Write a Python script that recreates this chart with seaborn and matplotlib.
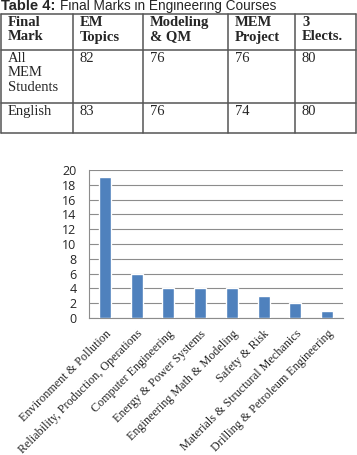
import matplotlib
matplotlib.use("Agg")
import matplotlib.pyplot as plt
import seaborn as sns
import pandas as pd

# table data
table_title_bold = "Table 4:"
table_title_rest = "Final Marks in Engineering Courses"
table_header = ["Final\nMark", "EM\nTopics", "Modeling\n& QM", "MEM\nProject", "3\nElects."]
row_labels = ["All\nMEM\nStudents", "English"]
row_values = [[82, 76, 76, 80], [83, 76, 74, 80]]

# bar chart data
areas = ["Environment & Pollution", "Reliability, Production, Operations",
         "Computer Engineering", "Energy & Power Systems",
         "Engineering Math & Modeling", "Safety & Risk",
         "Materials & Structural Mechanics", "Drilling & Petroleum Engineering"]
counts = [19, 6, 4, 4, 4, 3, 2, 1]
yticks = list(range(0, 21, 2))

sns.set_style("white")
W, H = 357, 455
fig = plt.figure(figsize=(W / 100, H / 100), dpi=100)

# ---- table drawn in pixel coordinates ----
tax = fig.add_axes([0, 0, 1, 1])
tax.set_xlim(0, W)
tax.set_ylim(H, 0)
tax.axis("off")

tax.text(1, 10, table_title_bold, fontsize=10.5, fontweight="bold",
         family="Liberation Sans", va="baseline")
tax.text(60, 10, table_title_rest, fontsize=9.8,
         family="Liberation Sans", va="baseline")

col_x = [1, 73, 143, 228, 295, 356]
row_y = [14, 50, 103, 133]
for x in col_x:
    tax.plot([x, x], [row_y[0], row_y[-1]], color="#555555", lw=1.1)
for y in row_y:
    tax.plot([col_x[0], col_x[-1]], [y, y], color="#555555", lw=1.1)

for i, h in enumerate(table_header):
    tax.text(col_x[i] + 7, row_y[0] + 2, h, fontsize=10.5, fontweight="bold",
             family="Liberation Serif", va="top", linespacing=1.15)
for r, (lab, vals) in enumerate(zip(row_labels, row_values)):
    tax.text(col_x[0] + 7, row_y[r + 1] + 2, lab, fontsize=10.5,
             family="Liberation Serif", va="top", linespacing=1.15)
    for c, v in enumerate(vals):
        tax.text(col_x[c + 1] + 7, row_y[r + 1] + 2, str(v), fontsize=10.5,
                 family="Liberation Serif", va="top")

# ---- bar chart ----
ax = fig.add_axes([89 / W, (H - 318) / H, (343 - 89) / W, (318 - 170) / H])
df = pd.DataFrame({"area": areas, "count": counts})
sns.barplot(data=df, x="area", y="count", color="#4F81BD", saturation=1,
            width=0.38, ax=ax, zorder=3)
ax.set_ylim(0, 20)
ax.set_xlim(-0.5, len(areas) - 0.5)
ax.set_yticks(yticks)
ax.set_yticklabels([str(t) for t in yticks], fontsize=9, family="Open Sans")
ax.set_xlabel("")
ax.set_ylabel("")
ax.yaxis.grid(True, color="#8c8c8c", lw=0.8, zorder=0)
ax.set_axisbelow(True)
for s in ["top", "right"]:
    ax.spines[s].set_visible(False)
ax.spines["left"].set_color("#8c8c8c")
ax.spines["bottom"].set_color("#8c8c8c")
ax.tick_params(axis="y", length=0, pad=9)
ax.set_xticks(range(len(areas)))
ax.set_xticklabels(areas, rotation=45, ha="right", rotation_mode="anchor",
                   fontsize=8.7, family="Liberation Serif")
ax.tick_params(axis="x", which="major", length=0, pad=7)
ax.set_xticks([i - 0.5 for i in range(len(areas) + 1)], minor=True)
ax.tick_params(axis="x", which="minor", length=4, color="#8c8c8c")

fig.savefig("out.png", dpi=100)
